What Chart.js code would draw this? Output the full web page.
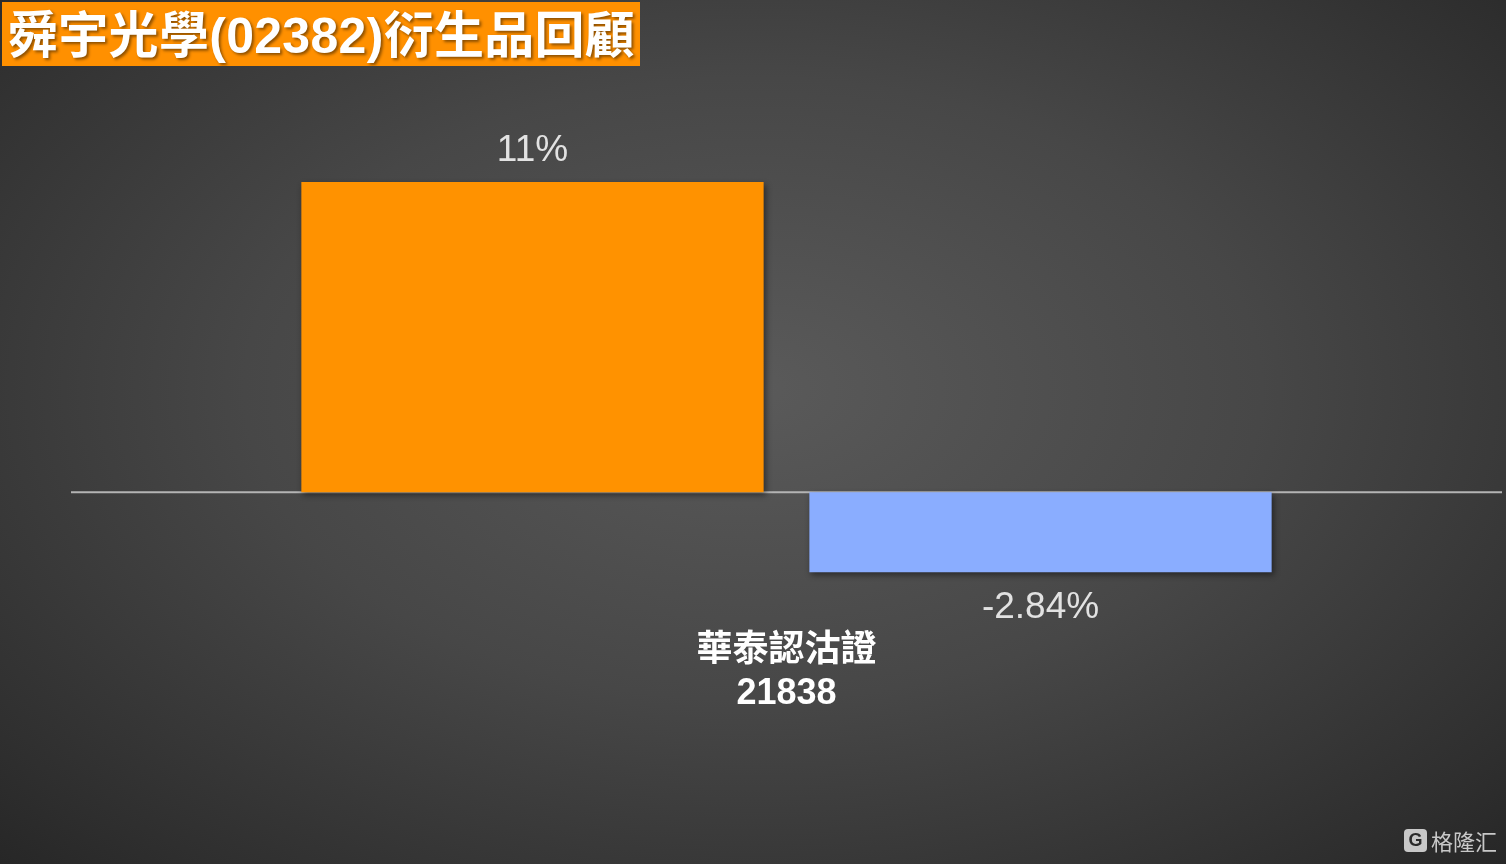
<!DOCTYPE html>
<html lang="zh-Hant">
<head>
  <meta charset="UTF-8" />
  <title>舜宇光學(02382)衍生品回顧</title>
  <script src="https://cdn.jsdelivr.net/npm/chart.js"></script>
  <style>
    html, body {
      margin: 0;
      padding: 0;
      width: 1506px;
      height: 864px;
      overflow: hidden;
    }

    body {
      position: relative;
      background: radial-gradient(ellipse 75% 80% at 50% 45%, #5a5a5a 0%, #474747 45%, #2e2e2e 85%, #242424 100%);
      font-family: "Liberation Sans", "Noto Sans CJK TC", sans-serif;
    }

    .title {
      position: absolute;
      left: 2px;
      top: 2px;
      width: 638px;
      height: 64px;
      background: #ff9000;
      color: #fff;
      font-weight: bold;
      font-size: 50px;
      letter-spacing: 0.3px;
      line-height: 68px;
      padding-left: 6px;
      box-sizing: border-box;
      white-space: nowrap;
      overflow: hidden;
      text-shadow: 2px 2px 3px rgba(0, 0, 0, 0.45);
    }

    .chart-box {
      position: absolute;
      left: 0;
      top: 0;
      width: 1506px;
      height: 864px;
    }

    .logo {
      position: absolute;
      right: 9px;
      bottom: 8px;
      color: #c8c8c8;
      font-size: 22px;
      font-family: "Noto Sans CJK SC", sans-serif;
      display: flex;
      align-items: center;
      gap: 4px;
    }

    .logo .g {
      display: inline-block;
      width: 23px;
      height: 23px;
      border-radius: 4px;
      background: #c8c8c8;
      color: #2a2a2a;
      font: bold 18px "Liberation Sans", sans-serif;
      line-height: 23px;
      text-align: center;
    }
  </style>
</head>
<body>
  <div class="chart-box"><canvas id="chart" width="1506" height="864"></canvas></div>
  <div class="title">舜宇光學(02382)衍生品回顧</div>
  <div class="logo"><span class="g">G</span>格隆汇</div>

  <script>
    const categories = [['華泰認沽證', '21838']];
    const seriesNames = ['正股', '認沽證'];
    const stockValues = [11];
    const warrantValues = [-2.84];
    const valueLabels = ['11%', '-2.84%'];

    // bar shadows
    const shadowPlugin = {
      id: 'barShadow',
      beforeDatasetsDraw(chart) {
        const ctx = chart.ctx;
        ctx.save();
        ctx.shadowColor = 'rgba(0, 0, 0, 0.45)';
        ctx.shadowBlur = 6;
        ctx.shadowOffsetX = 2;
        ctx.shadowOffsetY = 3;
      },
      afterDatasetsDraw(chart) {
        chart.ctx.restore();
      }
    };

    // zero line across the plot
    const zeroLinePlugin = {
      id: 'zeroLine',
      beforeDatasetsDraw(chart) {
        const ctx = chart.ctx;
        const y = chart.scales.y.getPixelForValue(0);
        ctx.save();
        ctx.strokeStyle = '#b4b4b4';
        ctx.lineWidth = 2;
        ctx.beginPath();
        ctx.moveTo(chart.chartArea.left, y);
        ctx.lineTo(chart.chartArea.right, y);
        ctx.stroke();
        ctx.restore();
      }
    };

    // value labels above / below bars
    const valueLabelPlugin = {
      id: 'valueLabels',
      afterDatasetsDraw(chart) {
        const ctx = chart.ctx;
        ctx.save();
        ctx.font = '37px "Liberation Sans", sans-serif';
        ctx.fillStyle = '#e2e2e2';
        ctx.textAlign = 'center';
        ctx.textBaseline = 'middle';
        chart.data.datasets.forEach((ds, i) => {
          chart.getDatasetMeta(i).data.forEach((bar, j) => {
            const v = ds.data[j];
            const y = v >= 0 ? bar.y - 31 : bar.y + 35;
            ctx.fillText(valueLabels[i], bar.x, y);
          });
        });
        ctx.restore();
      }
    };

    new Chart(document.getElementById('chart'), {
      type: 'bar',
      data: {
        labels: categories,
        datasets: [
          { label: seriesNames[0], data: stockValues, backgroundColor: '#ff9200' },
          { label: seriesNames[1], data: warrantValues, backgroundColor: '#8aadff' }
        ]
      },
      options: {
        responsive: false,
        animation: false,
        categoryPercentage: 0.71,
        barPercentage: 0.91,
        layout: { padding: { left: 71, right: 4, top: 97.5, bottom: 138.5 } },
        plugins: {
          legend: { display: false },
          tooltip: { enabled: false }
        },
        scales: {
          x: {
            grid: { display: false, drawTicks: false },
            border: { display: false },
            ticks: {
              color: '#ffffff',
              padding: 10,
              font: { size: 36, weight: 'bold', family: '"Liberation Sans", "Noto Sans CJK TC", sans-serif', lineHeight: 1.2 }
            }
          },
          y: {
            display: false,
            min: -4.5,
            max: 14
          }
        }
      },
      plugins: [zeroLinePlugin, shadowPlugin, valueLabelPlugin]
    });
  </script>
</body>
</html>
